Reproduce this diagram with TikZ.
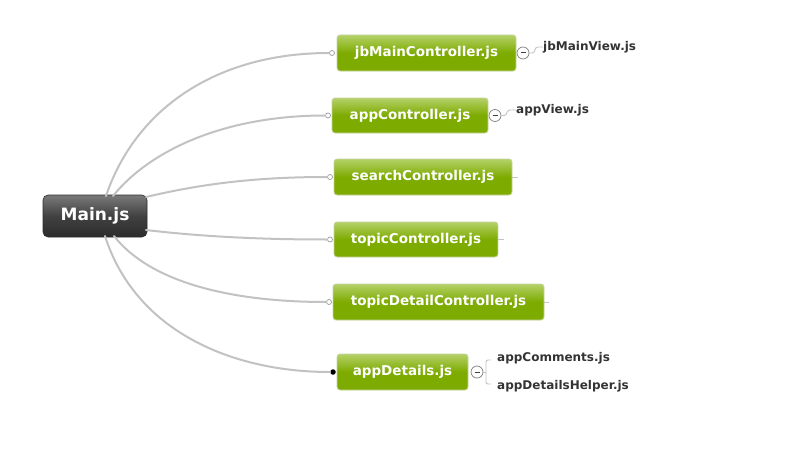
\documentclass[tikz,border=0pt]{standalone}
\usepackage{fontspec}
\setmainfont{DejaVu Sans}
\definecolor{gtop}{HTML}{B4D168}
\definecolor{gbot}{HTML}{7DAB00}
\definecolor{gborder}{HTML}{C5D3A0}
\definecolor{linkc}{HTML}{C2C2C2}
\definecolor{childc}{HTML}{333333}
\definecolor{mtop}{HTML}{7A7A7A}
\definecolor{mbot}{HTML}{2C2C2C}
\tikzset{
  gbox/.style={rectangle, rounded corners=3pt, draw=gborder, line width=0.8pt,
    top color=gtop, bottom color=gbot, middle color=gbot, minimum height=36pt,
    inner sep=0pt, text=white, font=\bfseries\fontsize{13.5}{15}\selectfont},
  mainbox/.style={rectangle, rounded corners=5pt, draw=mbot, line width=0.6pt,
    top color=mtop, bottom color=mbot, middle color=mbot!90!white, minimum width=104pt,
    minimum height=42pt, inner sep=0pt, text=white, font=\bfseries\fontsize{17}{19}\selectfont},
  link/.style={draw=linkc, line width=2pt, line cap=round},
  sublink/.style={draw=linkc, line width=0.9pt},
  knob/.style={circle, draw=linkc!80!black, fill=white, line width=0.7pt, minimum size=5pt, inner sep=0pt},
  knobon/.style={circle, fill=black, minimum size=5.5pt, inner sep=0pt},
  fold/.style={circle, draw=black!50, fill=white, line width=0.7pt, minimum size=12pt, inner sep=0pt},
  child/.style={anchor=west, inner sep=0pt, text=childc, font=\bfseries\fontsize{12}{14}\selectfont},
}
\begin{document}
\begin{tikzpicture}[x=1pt,y=-1pt]
\useasboundingbox (0,0) rectangle (792,452);

\node[mainbox] (main) at (95,216) {Main.js};

\node[gbox, minimum width=179pt] (n1) at (426.5,53) {jbMainController.js};
\node[gbox, minimum width=156pt, minimum height=35pt] (n2) at (410,115.5) {appController.js};
\node[gbox, minimum width=178pt] (n3) at (423,177) {searchController.js};
\node[gbox, minimum width=164pt, minimum height=35pt] (n4) at (416,239.5) {topicController.js};
\node[gbox, minimum width=211pt] (n5) at (438.5,302) {topicDetailController.js};
\node[gbox, minimum width=131pt] (n6) at (402.5,372) {appDetails.js};

\node[knob] (k1) at (332,53) {};
\node[knob] (k2) at (328,115.5) {};
\node[knob] (k3) at (330,177) {};
\node[knob] (k4) at (330,239.5) {};
\node[knob] (k5) at (329,302) {};
\node[knobon] (k6) at (333,372) {};

\coordinate (s1) at (106,196);
\coordinate (s2) at (113,196);
\coordinate (s3) at (146,197);
\coordinate (s4) at (146,230);
\coordinate (s5) at (114,236);
\coordinate (s6) at (105,236);

\draw[link] (s1) .. controls (135,110) and (215,53) .. (k1.west);
\draw[link] (s2) .. controls (150,150) and (225,115.5) .. (k2.west);
\draw[link] (s3) .. controls (205,183) and (260,177) .. (k3.west);
\draw[link] (s4) .. controls (205,237) and (265,239.5) .. (k4.west);
\draw[link] (s5) .. controls (150,282) and (230,302) .. (k5.west);
\draw[link] (s6) .. controls (135,330) and (230,372) .. (k6.west);

\draw[sublink] (n3.east) -- ++(6,0);
\draw[sublink] (n4.east) -- ++(6,0);
\draw[sublink] (n5.east) -- ++(5,0);

% jbMainController children
\node[fold] (f1) at (523,53) {};
\draw[black!75, line width=1pt] ([xshift=-2.5pt]f1.center) -- ([xshift=2.5pt]f1.center);
\node[child] (c1) at (543,47) {jbMainView.js};
\draw[sublink] (f1.east) -- ++(3,0) .. controls +(3,0) and (534,47) .. (538,47) -- (c1.west);

% appController children
\node[fold] (f2) at (495,115.5) {};
\draw[black!75, line width=1pt] ([xshift=-2.5pt]f2.center) -- ([xshift=2.5pt]f2.center);
\node[child] (c2) at (516,110) {appView.js};
\draw[sublink] (f2.east) -- ++(3,0) .. controls +(3,0) and (506,110) .. (510,110) -- (c2.west);

% appDetails children
\node[fold] (f3) at (477,372) {};
\draw[black!75, line width=1pt] ([xshift=-2.5pt]f3.center) -- ([xshift=2.5pt]f3.center);
\node[child] (c3) at (497,358) {appComments.js};
\node[child] (c4) at (497,386) {appDetailsHelper.js};
\coordinate (b0) at (486,372);
\draw[sublink] (f3.east) -- (b0);
\draw[sublink, rounded corners=2pt] (491,360) -- (486,360) -- (486,384) -- (491,384);
\end{tikzpicture}
\end{document}
